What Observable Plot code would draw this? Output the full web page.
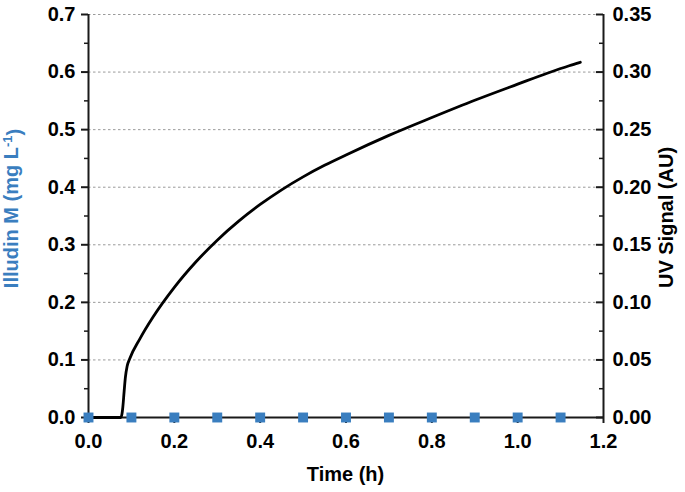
<!DOCTYPE html>
<html><head><meta charset="utf-8">
<script src="https://cdn.jsdelivr.net/npm/d3@7"></script>
<script src="https://cdn.jsdelivr.net/npm/@observablehq/plot@0.6"></script>
<style>body{margin:0;background:#fff}</style>
</head><body><div id="chart"></div>
<script>
// Illudin M concentration (mg/L), blue squares
const illudinTime = [0, 0.1, 0.2, 0.3, 0.4, 0.5, 0.6, 0.7, 0.8, 0.9, 1.0, 1.1];
const illudinConc = [0, 0, 0, 0, 0, 0, 0, 0, 0, 0, 0, 0];
// UV signal (AU), black line
const uvTime   = [0, 0.075, 0.078, 0.080, 0.083, 0.086, 0.090, 0.096, 0.120, 0.150, 0.200, 0.250, 0.300, 0.350, 0.400, 0.450, 0.500, 0.550, 0.600, 0.700, 0.800, 0.900, 1.000, 1.069, 1.120, 1.146];
const uvSignal = [0, 0, 0.003, 0.009, 0.0225, 0.035, 0.0445, 0.051, 0.0685, 0.087, 0.113, 0.135, 0.154, 0.1705, 0.185, 0.19775, 0.209, 0.219, 0.228, 0.245, 0.2605, 0.2755, 0.2895, 0.299, 0.3055, 0.3085];
// axes
const xTicks = [0, 0.2, 0.4, 0.6, 0.8, 1.0, 1.2];
const leftTicks = [0, 0.1, 0.2, 0.3, 0.4, 0.5, 0.6, 0.7];
const leftMinor = [0.05, 0.15, 0.25, 0.35, 0.45, 0.55, 0.65];
const rightTicks = [0, 0.05, 0.10, 0.15, 0.20, 0.25, 0.30, 0.35];
const rightMinor = [0.025, 0.075, 0.125, 0.175, 0.225, 0.275, 0.325];
const gridTicks = [0.1, 0.2, 0.3, 0.4, 0.5, 0.6, 0.7];
const xDomain = [0, 1.2];
const leftDomain = [0, 0.7];
const rightDomain = [0, 0.35];
const k = leftDomain[1] / rightDomain[1];

const W = 685, H = 492, mL = 88, mR = 82, mT = 14, mB = 75;
const blue = "#3a7ebf";
const axisColor = "#1a1a1a";

const illudin = illudinTime.map((t, i) => ({t, c: illudinConc[i]}));
const uv = uvTime.map((t, i) => ({t, v: uvSignal[i]}));

const svg = Plot.plot({
  width: W, height: H,
  marginLeft: mL, marginRight: mR, marginTop: mT, marginBottom: mB,
  x: {domain: xDomain},
  y: {domain: leftDomain},
  style: {fontFamily: "'Liberation Sans', Arial, sans-serif", fontSize: "20px", fontWeight: "bold", color: "#000", background: "#fff", overflow: "visible"},
  marks: [
    Plot.ruleY(gridTicks, {stroke: "#9a9a9a", strokeWidth: 1, strokeDasharray: "2.5,2.5"}),
    // axis lines
    Plot.ruleX([xDomain[0]], {stroke: axisColor, strokeWidth: 2}),
    Plot.ruleX([xDomain[1]], {stroke: axisColor, strokeWidth: 2}),
    Plot.ruleY([leftDomain[0]], {stroke: axisColor, strokeWidth: 2}),
    // left ticks (outward)
    Plot.ruleY(leftTicks, {x1: xDomain[0], x2: xDomain[0], insetLeft: -7, stroke: axisColor, strokeWidth: 2}),
    Plot.ruleY(leftMinor, {x1: xDomain[0], x2: xDomain[0], insetLeft: -4, stroke: axisColor, strokeWidth: 1.5}),
    // right ticks (inward)
    Plot.ruleY(rightTicks.map(v => v * k), {x1: xDomain[1], x2: xDomain[1], insetRight: 7, stroke: axisColor, strokeWidth: 2}),
    Plot.ruleY(rightMinor.map(v => v * k), {x1: xDomain[1], x2: xDomain[1], insetRight: 4, stroke: axisColor, strokeWidth: 1.5}),
    // bottom ticks (outward)
    Plot.ruleX(xTicks, {y1: leftDomain[0], y2: leftDomain[0], insetBottom: -6, stroke: axisColor, strokeWidth: 2}),
    // tick labels
    Plot.axisY(leftTicks, {anchor: "left", tickSize: 0, tickPadding: 13, tickFormat: d => d.toFixed(1), label: null}),
    Plot.axisY(rightTicks.map(v => v * k), {anchor: "right", tickSize: 0, tickPadding: 9, tickFormat: d => (d / k).toFixed(2), label: null}),
    Plot.axisX(xTicks, {anchor: "bottom", tickSize: 0, tickPadding: 16, tickFormat: d => d.toFixed(1), label: null}),
    // data
    Plot.line(uv, {x: "t", y: d => d.v * k, stroke: "#000", strokeWidth: 2.8, curve: "monotone-x"}),
    Plot.dot(illudin, {x: "t", y: "c", symbol: "square", r: 5.6, fill: blue, stroke: "none"})
  ]
});

const s = d3.select(svg);
const cx = mL + (W - mL - mR) / 2;
const cy = mT + (H - mT - mB) / 2;
s.append("text").attr("x", cx).attr("y", 481).attr("text-anchor", "middle")
  .style("font-size", "20px").attr("fill", "#000").text("Time (h)");
const lt = s.append("text").attr("transform", `translate(18,${cy - 7}) rotate(-90)`).attr("text-anchor", "middle")
  .style("font-size", "20px").attr("fill", blue);
lt.append("tspan").text("Illudin M (mg L");
lt.append("tspan").attr("dy", "-0.45em").style("font-size", "13px").text("-1");
lt.append("tspan").attr("dy", "0.45em").text(")");
s.append("text").attr("transform", `translate(673,${cy + 2}) rotate(-90)`).attr("text-anchor", "middle")
  .style("font-size", "20px").attr("fill", "#000").text("UV Signal (AU)");

document.getElementById("chart").appendChild(svg);
</script>
</body></html>
